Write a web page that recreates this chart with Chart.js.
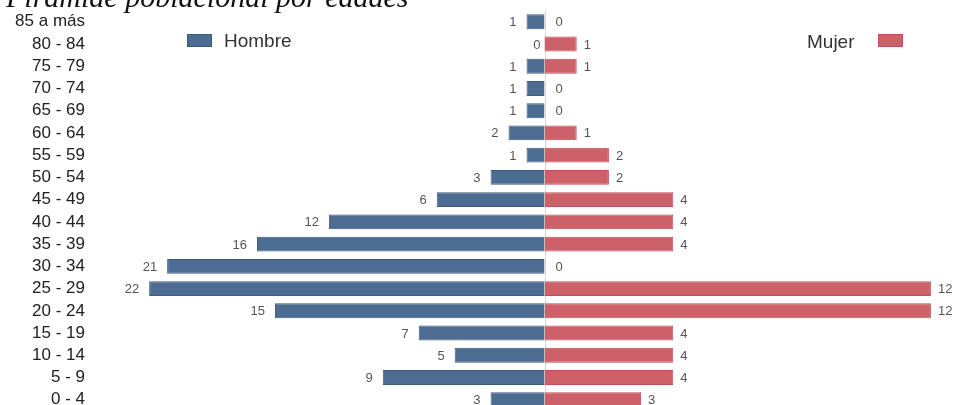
<!DOCTYPE html>
<html>
<head>
<meta charset="utf-8">
<script src="https://cdn.jsdelivr.net/npm/chart.js@4/dist/chart.umd.min.js"></script>
<style>
  html, body { margin: 0; padding: 0; background: #fff; overflow: hidden; }
  #wrap { position: relative; width: 957px; height: 422px; }
</style>
</head>
<body>
<div id="wrap"><canvas id="piramide" width="957" height="422"></canvas></div>
<script>
// Datos de la pirámide (de arriba hacia abajo)
const edades = ['85 a más', '80 - 84', '75 - 79', '70 - 74', '65 - 69', '60 - 64', '55 - 59', '50 - 54', '45 - 49',
  '40 - 44', '35 - 39', '30 - 34', '25 - 29', '20 - 24', '15 - 19', '10 - 14', '5 - 9', '0 - 4'];
const hombres = [1, 0, 1, 1, 1, 2, 1, 3, 6, 12, 16, 21, 22, 15, 7, 5, 9, 3];
const mujeres = [0, 1, 1, 0, 0, 1, 2, 2, 4, 4, 4, 0, 12, 12, 4, 4, 4, 3];
const titulo = 'Pirámide poblacional por edades';

// geometria: cada lado tiene su propia escala
const ANCHO_Y = 85, ANCHO = 957;
const CERO_X = 544.5;
const PX_HOMBRE = 17.97, PX_MUJER = 32.2;
const azul = '#4d6c91', azulBorde = '#3e5a7c';
const rojo = '#cd6169', rojoBorde = '#c04f58';

const decoraciones = {
  id: 'decoraciones',
  beforeDatasetsDraw(chart) {
    const ctx = chart.ctx;
    const x = Math.round(chart.scales.xm.getPixelForValue(0)) + 0.5;
    ctx.save();
    ctx.strokeStyle = '#e2d6d6';
    ctx.lineWidth = 1;
    ctx.beginPath();
    ctx.moveTo(x, chart.chartArea.top);
    ctx.lineTo(x, chart.chartArea.bottom);
    ctx.stroke();
    ctx.restore();
  },
  afterDatasetsDraw(chart) {
    const ctx = chart.ctx;
    ctx.save();
    ctx.font = '13px "Liberation Sans", Arial, sans-serif';
    ctx.fillStyle = '#555';
    ctx.textBaseline = 'middle';
    chart.getDatasetMeta(0).data.forEach((bar, i) => {
      ctx.textAlign = 'right';
      ctx.fillText(String(hombres[i]), bar.x - (hombres[i] === 0 ? 4 : 10), bar.y + 1);
    });
    chart.getDatasetMeta(1).data.forEach((bar, i) => {
      ctx.textAlign = 'left';
      ctx.fillText(String(mujeres[i]), bar.x + (mujeres[i] === 0 ? 11 : 7), bar.y + 1);
    });

    // leyenda
    ctx.font = '19px "Liberation Sans", Arial, sans-serif';
    ctx.fillStyle = '#333';
    ctx.textAlign = 'left';
    ctx.fillText(chart.data.datasets[0].label, 224, 42);
    ctx.fillText(chart.data.datasets[1].label, 807, 43);
    ctx.fillStyle = azul; ctx.strokeStyle = azulBorde; ctx.lineWidth = 1;
    ctx.fillRect(187, 34, 25, 12); ctx.strokeRect(187.5, 34.5, 24, 12);
    ctx.fillStyle = rojo; ctx.strokeStyle = rojoBorde;
    ctx.fillRect(878, 34, 25, 13); ctx.strokeRect(878.5, 34.5, 24, 12);

    // titulo (cortado arriba)
    ctx.font = 'italic 30px "Liberation Serif", "Times New Roman", serif';
    ctx.fillStyle = '#111';
    ctx.textBaseline = 'alphabetic';
    ctx.fillText(titulo, 6, 7);
    ctx.restore();
  }
};

const L = ANCHO_Y, R = ANCHO;

new Chart(document.getElementById('piramide').getContext('2d'), {
  type: 'bar',
  data: {
    labels: edades,
    datasets: [
      {
        label: 'Hombre',
        data: hombres,
        xAxisID: 'xm',
        backgroundColor: azul,
        borderColor: azulBorde,
        borderWidth: (c) => (c.raw === 0 ? 0 : 1),
        grouped: false,
        barPercentage: 0.67,
        categoryPercentage: 1
      },
      {
        label: 'Mujer',
        data: mujeres,
        xAxisID: 'xw',
        backgroundColor: rojo,
        borderColor: rojoBorde,
        borderWidth: (c) => (c.raw === 0 ? 0 : 1),
        grouped: false,
        barPercentage: 0.67,
        categoryPercentage: 1
      }
    ]
  },
  options: {
    indexAxis: 'y',
    responsive: false,
    animation: false,
    layout: { padding: { top: 10.6, bottom: 11.1, left: 0, right: 0 } },
    plugins: { legend: { display: false }, tooltip: { enabled: false } },
    scales: {
      y: {
        grid: { display: false, drawTicks: false },
        border: { display: false },
        ticks: {
          autoSkip: false,
          padding: 0,
          color: '#222',
          font: { family: '"Liberation Sans", Arial, sans-serif', size: 17 }
        },
        afterFit: (s) => { s.width = ANCHO_Y; }
      },
      xm: {
        type: 'linear',
        display: false,
        reverse: true,
        min: -(R - CERO_X) / PX_HOMBRE,
        max: (CERO_X - L) / PX_HOMBRE
      },
      xw: {
        type: 'linear',
        display: false,
        min: -(CERO_X - L) / PX_MUJER,
        max: (R - CERO_X) / PX_MUJER
      }
    }
  },
  plugins: [decoraciones]
});
</script>
</body>
</html>
